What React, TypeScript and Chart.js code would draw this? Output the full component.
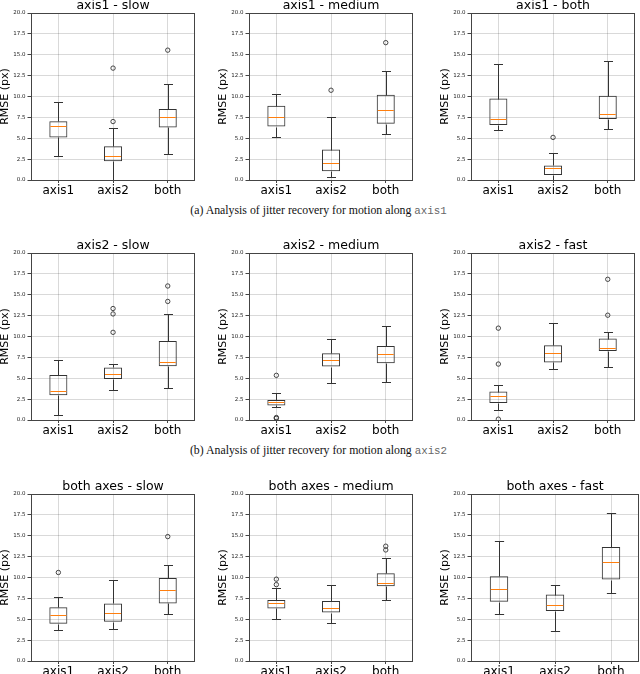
import React, { useEffect, useRef } from 'react';
import { Chart, registerables } from 'chart.js';

Chart.register(...registerables);

const categories = ['axis1', 'axis2', 'both'];
const yMin = 0;
const yMax = 20;
const yStep = 2.5;
const yAxisLabel = 'RMSE (px)';

const panelTitles = [
  'axis1 - slow', 'axis1 - medium', 'axis1 - both',
  'axis2 - slow', 'axis2 - medium', 'axis2 - fast',
  'both axes - slow', 'both axes - medium', 'both axes - fast',
];

// [lower whisker, Q1, median, Q3, upper whisker] for each category
const axis1Slow = [[2.9, 5.1, 6.5, 7.05, 9.4], [0.05, 2.25, 2.85, 4.05, 6.2], [3.1, 6.3, 7.5, 8.5, 11.5]];
const axis1SlowOutliers = [[], [13.4, 7.0], [15.55]];
const axis1Medium = [[5.1, 6.4, 7.6, 8.9, 10.3], [0.3, 1.05, 2.0, 3.65, 7.5], [5.45, 6.75, 8.4, 10.2, 13.1]];
const axis1MediumOutliers = [[], [10.75], [16.45]];
const axis1Both = [[6.0, 6.6, 7.3, 9.75, 13.9], [0.05, 0.6, 1.4, 1.75, 3.25], [6.1, 7.3, 7.95, 10.1, 14.2]];
const axis1BothOutliers = [[], [5.1], []];

const axis2Slow = [[0.6, 2.95, 3.45, 5.4, 7.15], [3.6, 4.9, 5.5, 6.3, 6.65], [3.85, 6.45, 7.0, 9.45, 12.7]];
const axis2SlowOutliers = [[], [13.35, 12.7, 10.5], [16.05, 14.2]];
const axis2Medium = [[1.6, 1.75, 2.1, 2.4, 3.2], [4.45, 6.4, 7.15, 8.0, 9.65], [4.6, 6.8, 7.9, 8.85, 11.3]];
const axis2MediumOutliers = [[5.35, 0.3, 0.2], [], []];
const axis2Fast = [[1.2, 2.05, 2.9, 3.4, 4.25], [6.15, 6.9, 8.05, 8.95, 11.6], [6.4, 8.25, 8.6, 9.75, 10.5]];
const axis2FastOutliers = [[11.0, 6.7, 0.1], [], [16.85, 12.55]];

const bothSlow = [[3.7, 4.45, 5.45, 6.45, 7.7], [3.8, 4.7, 5.75, 6.9, 9.75], [5.6, 6.9, 8.55, 9.95, 11.55]];
const bothSlowOutliers = [[10.6], [], [14.9]];
const bothMedium = [[5.0, 6.3, 7.0, 7.3, 8.8], [4.55, 5.8, 6.4, 7.2, 9.1], [7.3, 8.95, 9.35, 10.5, 12.35]];
const bothMediumOutliers = [[9.8, 9.15], [], [13.75, 13.3]];
const bothFast = [[5.6, 7.1, 8.65, 10.15, 14.35], [3.6, 6.0, 6.65, 7.95, 9.15], [8.1, 9.75, 11.9, 13.65, 17.7]];
const bothFastOutliers = [[], [], []];

const panelStats = [axis1Slow, axis1Medium, axis1Both, axis2Slow, axis2Medium, axis2Fast, bothSlow, bothMedium, bothFast];
const panelOutliers = [
  axis1SlowOutliers, axis1MediumOutliers, axis1BothOutliers,
  axis2SlowOutliers, axis2MediumOutliers, axis2FastOutliers,
  bothSlowOutliers, bothMediumOutliers, bothFastOutliers,
];

const captions = [
  { label: '(a) Analysis of jitter recovery for motion along ', code: 'axis1' },
  { label: '(b) Analysis of jitter recovery for motion along ', code: 'axis2' },
];

// layout (page pixels)
const colCanvasLeft = [-1, 217, 439];
const rowCanvasTop = [-2, 238, 479];
const captionTops = [205, 445];
const CANVAS_W = 201;
const CANVAS_H = 204;
const FONT = '"DejaVu Sans", sans-serif';
const BOX_COLOR = '#333';
const MEDIAN_COLOR = '#ff7f0e';
const GRID_COLOR = 'rgba(0,0,0,0.15)';

function Panel({ left, top, title, stats, outliers }: any) {
  const ref = useRef<HTMLCanvasElement>(null);
  useEffect(() => {
    if (!ref.current) return;
    const outlierData = outliers.flatMap((vals: number[], i: number) =>
      vals.map((v) => ({ x: categories[i], y: v }))
    );
    const boxParts = {
      id: 'boxParts',
      afterDatasetsDraw(chart: any) {
        const { ctx, scales, chartArea } = chart;
        const xs = scales.x;
        const ys = scales.y;
        const meta = chart.getDatasetMeta(0);
        ctx.save();
        ctx.lineWidth = 1;
        stats.forEach((s: number[], i: number) => {
          const bar: any = meta.data[i];
          const w = bar.width;
          const cx = Math.round(xs.getPixelForValue(i)) + 0.5;
          const py = (v: number) => Math.round(ys.getPixelForValue(v)) + 0.5;
          const capHalf = w / 4;
          ctx.strokeStyle = BOX_COLOR;
          ctx.beginPath();
          ctx.moveTo(cx, py(s[0]));
          ctx.lineTo(cx, py(s[1]));
          ctx.moveTo(cx, py(s[3]));
          ctx.lineTo(cx, py(s[4]));
          ctx.moveTo(cx - capHalf, py(s[0]));
          ctx.lineTo(cx + capHalf, py(s[0]));
          ctx.moveTo(cx - capHalf, py(s[4]));
          ctx.lineTo(cx + capHalf, py(s[4]));
          ctx.stroke();
          ctx.strokeStyle = MEDIAN_COLOR;
          ctx.beginPath();
          ctx.moveTo(bar.x - w / 2 + 1, py(s[2]));
          ctx.lineTo(bar.x + w / 2 - 1, py(s[2]));
          ctx.stroke();
        });
        ctx.strokeStyle = '#444';
        ctx.lineWidth = 1;
        ctx.strokeRect(
          Math.round(chartArea.left) + 0.5,
          Math.round(chartArea.top) + 0.5,
          Math.round(chartArea.right) - Math.round(chartArea.left) - 1,
          Math.round(chartArea.bottom) - Math.round(chartArea.top)
        );
        ctx.restore();
      },
    };
    const chart = new Chart(ref.current, {
      type: 'bar',
      data: {
        labels: categories,
        datasets: [
          {
            type: 'bar',
            data: stats.map((s: number[]) => [s[1], s[3]]),
            backgroundColor: 'rgba(0,0,0,0)',
            borderColor: BOX_COLOR,
            borderWidth: 1,
            borderSkipped: false,
            barPercentage: 0.33,
            categoryPercentage: 1,
          } as any,
          {
            type: 'line',
            data: outlierData,
            showLine: false,
            pointStyle: 'circle',
            pointRadius: 2.2,
            pointBorderWidth: 0.9,
            pointBorderColor: '#333',
            pointBackgroundColor: 'rgba(0,0,0,0)',
          } as any,
        ],
      },
      options: {
        responsive: false,
        animation: false,
        events: [],
        layout: { padding: { left: 0, right: 1, top: 0, bottom: 0 } },
        plugins: {
          legend: { display: false },
          tooltip: { enabled: false },
          title: {
            display: true,
            text: title,
            fullSize: false,
            color: '#000',
            font: { family: FONT, size: 12.5, weight: 'normal', lineHeight: 1.2 },
            padding: { top: 0, bottom: 0 },
          } as any,
        },
        scales: {
          x: {
            type: 'category',
            offset: true,
            grid: { offset: false, color: GRID_COLOR, lineWidth: 1, tickLength: 3, tickColor: '#444', drawTicks: true },
            border: { display: false },
            ticks: { font: { family: FONT, size: 12 }, color: '#000', padding: 1, maxRotation: 0, autoSkip: false },
            afterFit: (s: any) => { s.height = 22; },
          },
          y: {
            min: yMin,
            max: yMax,
            grid: { color: GRID_COLOR, lineWidth: 1, tickLength: 3.5, tickColor: '#444', drawTicks: true },
            border: { display: false },
            ticks: {
              stepSize: yStep,
              callback: (v: any) => Number(v).toFixed(1),
              font: { family: FONT, size: 5.5 },
              color: '#222',
              padding: 2,
            },
            title: { display: true, text: yAxisLabel, color: '#000', font: { family: FONT, size: 11 }, padding: 0 },
            afterFit: (s: any) => { s.width = 32; },
          },
        },
      } as any,
      plugins: [boxParts],
    });
    return () => chart.destroy();
  }, []);
  return (
    <canvas
      ref={ref}
      width={CANVAS_W}
      height={CANVAS_H}
      style={{ position: 'absolute', left, top, width: CANVAS_W, height: CANVAS_H }}
    />
  );
}

export default function App() {
  return (
    <div style={{ position: 'absolute', left: 0, top: 0, width: 640, height: 674, overflow: 'hidden', background: '#fff' }}>
      {panelTitles.map((t, k) => (
        <Panel
          key={t}
          left={colCanvasLeft[k % 3]}
          top={rowCanvasTop[Math.floor(k / 3)]}
          title={t}
          stats={panelStats[k]}
          outliers={panelOutliers[k]}
        />
      ))}
      {captions.map((c, k) => (
        <div
          key={c.code}
          style={{
            position: 'absolute',
            left: 0,
            top: captionTops[k],
            width: 637,
            textAlign: 'center',
            fontFamily: '"Liberation Serif", serif',
            fontSize: 11.8,
            lineHeight: 1,
            color: '#111',
            whiteSpace: 'nowrap',
          }}
        >
          {c.label}
          <span style={{ fontFamily: '"Liberation Mono", monospace', fontSize: 10.8, color: '#666' }}>{c.code}</span>
        </div>
      ))}
    </div>
  );
}
